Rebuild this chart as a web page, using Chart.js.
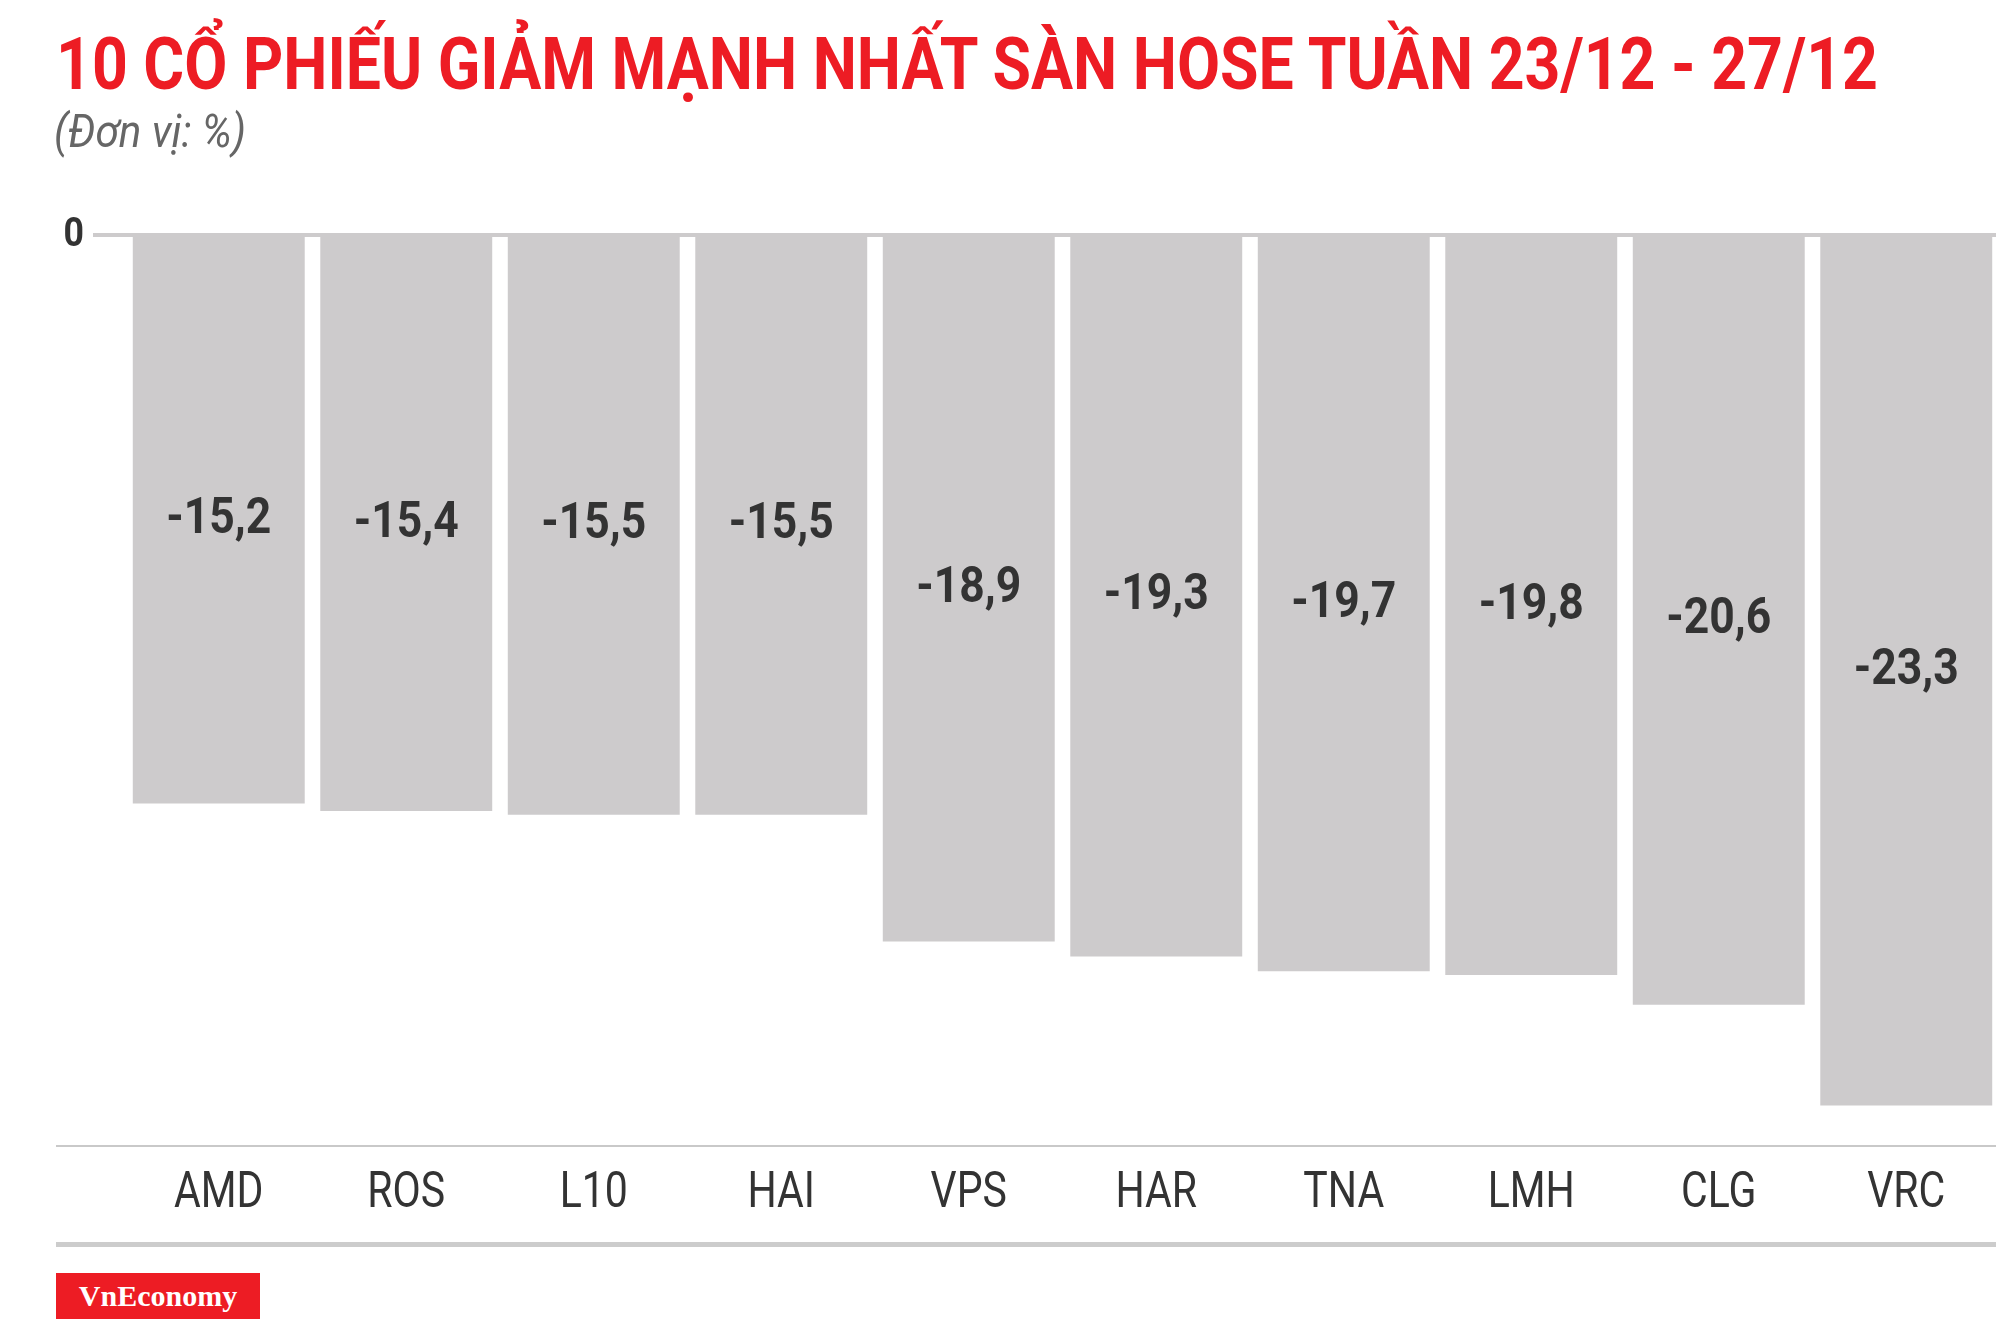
<!DOCTYPE html>
<html>
<head>
<meta charset="utf-8">
<script src="https://cdn.jsdelivr.net/npm/chart.js@4/dist/chart.umd.min.js"></script>
<style>
  body { margin: 0; background: #fff; width: 2000px; height: 1319px; overflow: hidden; position: relative; }
  #chart { position: absolute; left: 0; top: 0; }
  .title { position: absolute; left: 56px; top: 29px; font: 700 72px/1 Roboto; color: #ed1c24; white-space: nowrap; transform-origin: 0 0; }
  .unit { position: absolute; left: 54px; top: 108px; font: italic 400 46px/1 Roboto; color: #666; white-space: nowrap; transform-origin: 0 0; }
  .logo { position: absolute; left: 56px; top: 1273px; width: 204px; height: 46px; background: #ed1c24; color: #fff; font: 700 30px/46px 'Liberation Serif'; text-align: center; }
</style>
</head>
<body>
<canvas id="chart" width="2000" height="1319"></canvas>
<div class="title" data-w="1822">10 CỔ PHIẾU GIẢM MẠNH NHẤT SÀN HOSE TUẦN 23/12 - 27/12</div>
<div class="unit" data-w="192">(Đơn vị: %)</div>
<div class="logo">VnEconomy</div>
<script>
// data
var tickers = ['AMD', 'ROS', 'L10', 'HAI', 'VPS', 'HAR', 'TNA', 'LMH', 'CLG', 'VRC'];
var changes = [-15.2, -15.4, -15.5, -15.5, -18.9, -19.3, -19.7, -19.8, -20.6, -23.3];
var yTicks = [0];

var barColor = '#cdcbcc';
var textColor = '#333333';

function fmt(v) {
  return v.toFixed(1).replace('.', ',');
}

// squeeze text horizontally to get the condensed look
function drawNarrow(ctx, text, x, y, sx, align) {
  ctx.save();
  ctx.translate(x, y);
  ctx.scale(sx, 1);
  ctx.textAlign = align || 'center';
  ctx.fillText(text, 0, 0);
  ctx.restore();
}

var decor = {
  id: 'decor',
  afterDatasetsDraw: function (chart) {
    var ctx = chart.ctx;
    var xs = chart.scales.x;
    var ys = chart.scales.y;
    var area = chart.chartArea;

    // zero line + label
    yTicks.forEach(function (t) {
      var py = ys.getPixelForValue(t);
      ctx.fillStyle = barColor;
      ctx.fillRect(93, py - 4, 1996 - 93, 4);
      ctx.fillStyle = textColor;
      ctx.font = '700 41px Roboto';
      ctx.textBaseline = 'middle';
      drawNarrow(ctx, String(t), 84, py - 1, 0.87, 'right');
    });

    // bottom rules
    ctx.fillStyle = '#c9c9c9';
    ctx.fillRect(56, area.bottom, 1940, 2);
    ctx.fillStyle = '#cccccc';
    ctx.fillRect(56, area.bottom + 97, 1940, 5);

    // category labels
    ctx.fillStyle = textColor;
    ctx.font = '400 50px Roboto';
    ctx.textBaseline = 'middle';
    tickers.forEach(function (t, i) {
      drawNarrow(ctx, t, xs.getPixelForValue(i), area.bottom + 49, 0.82);
    });

    // value labels
    ctx.font = '700 50px Roboto';
    changes.forEach(function (v, i) {
      drawNarrow(ctx, fmt(v), xs.getPixelForValue(i), ys.getPixelForValue(v / 2), 0.89);
    });
  }
};

function fitText() {
  document.querySelectorAll('[data-w]').forEach(function (el) {
    var w = el.getBoundingClientRect().width;
    el.style.transform = 'scaleX(' + (parseFloat(el.dataset.w) / w) + ')';
  });
}

Promise.all([
  document.fonts.load('700 50px Roboto'),
  document.fonts.load('400 50px Roboto'),
  document.fonts.load('italic 400 46px Roboto'),
  document.fonts.load('700 30px "Liberation Serif"')
]).catch(function () {}).then(function () {
  fitText();
  new Chart(document.getElementById('chart'), {
    type: 'bar',
    data: {
      labels: tickers,
      datasets: [{
        data: changes,
        backgroundColor: barColor,
        borderWidth: 0,
        barPercentage: 1,
        categoryPercentage: 0.917
      }]
    },
    options: {
      responsive: false,
      animation: false,
      layout: { padding: { left: 125, right: 0, top: 237, bottom: 174 } },
      plugins: { legend: { display: false }, tooltip: { enabled: false } },
      scales: {
        x: { display: false },
        y: { display: false, min: -24.36, max: 0 }
      }
    },
    plugins: [decor]
  });
});
</script>
</body>
</html>
